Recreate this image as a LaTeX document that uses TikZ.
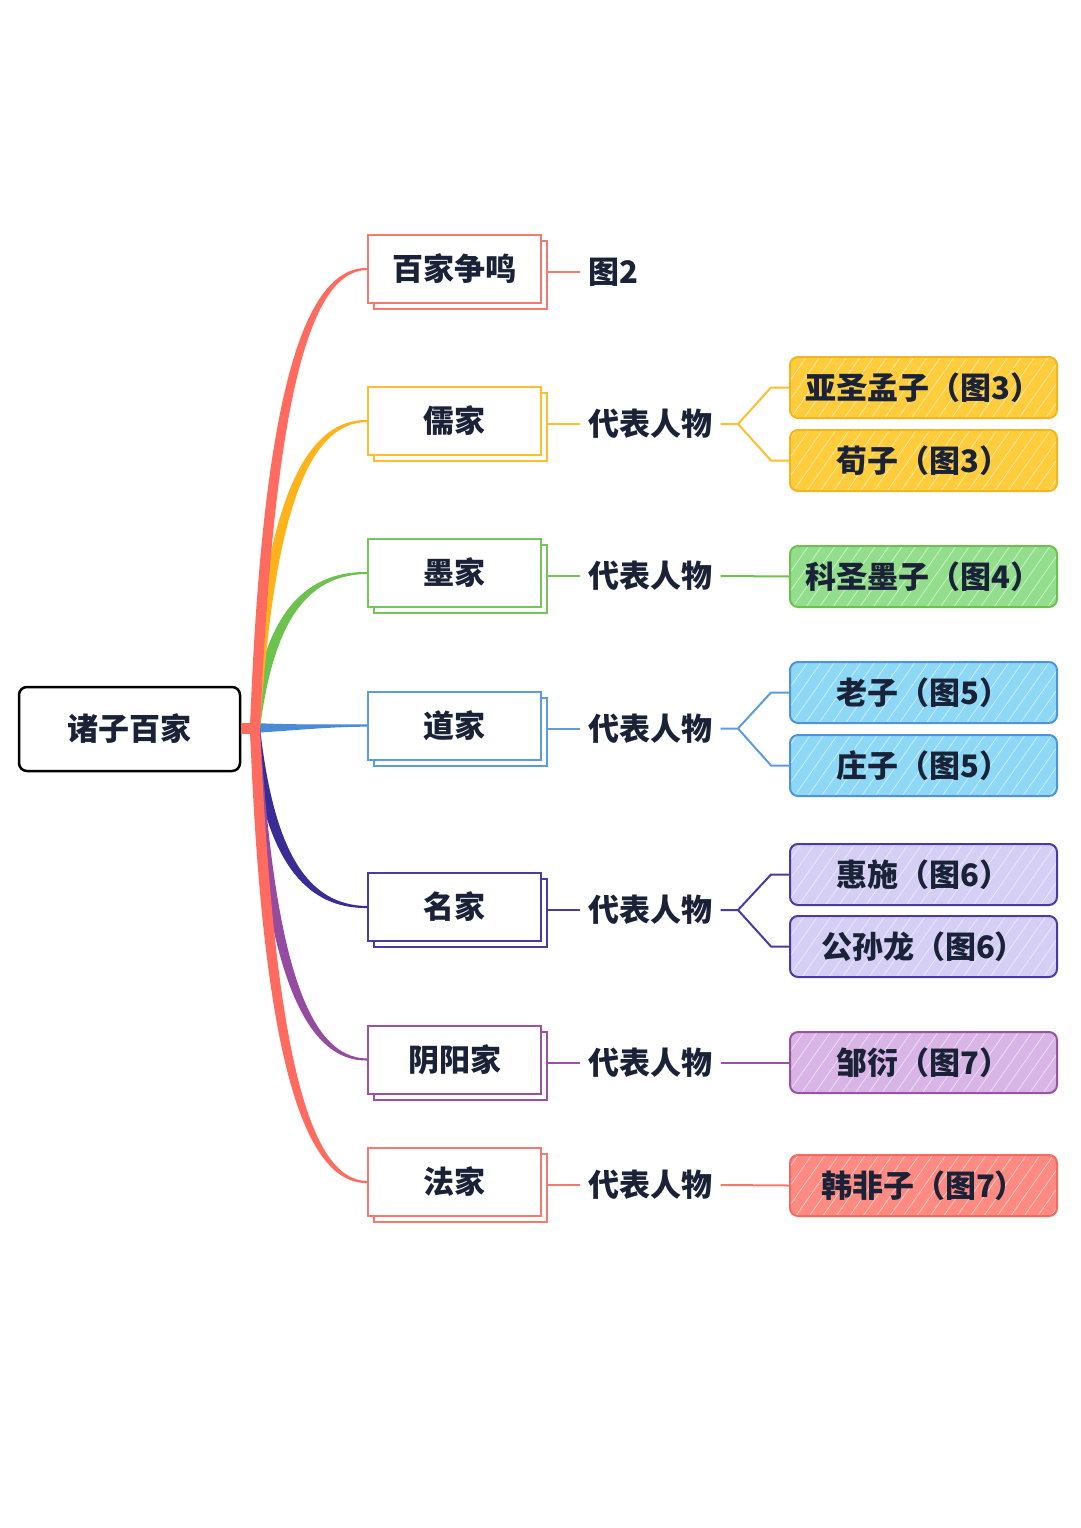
\documentclass[tikz,border=0pt]{standalone}
\usepackage{fontspec}
\setmainfont{Noto Sans CJK SC}
\usetikzlibrary{calc,patterns.meta}
\definecolor{txt}{HTML}{1A2238}
\definecolor{cRed}{HTML}{FF6B5E}
\definecolor{bRed}{HTML}{F47A70}
\definecolor{fRed}{HTML}{FF8A82}
\definecolor{lRed}{HTML}{F26A60}
\definecolor{cYel}{HTML}{FFB31A}
\definecolor{bYel}{HTML}{FFBE2E}
\definecolor{fYel}{HTML}{FFCD3C}
\definecolor{lYel}{HTML}{F4B620}
\definecolor{cGrn}{HTML}{6DC14D}
\definecolor{bGrn}{HTML}{77C45E}
\definecolor{fGrn}{HTML}{92DE8C}
\definecolor{cBlu}{HTML}{4A8BD8}
\definecolor{bBlu}{HTML}{5C9BE0}
\definecolor{fBlu}{HTML}{8DD8F6}
\definecolor{lBlu}{HTML}{4E94DC}
\definecolor{cInd}{HTML}{3A2C96}
\definecolor{bInd}{HTML}{4A3AA6}
\definecolor{fInd}{HTML}{D5CFF6}
\definecolor{cPur}{HTML}{944BA0}
\definecolor{bPur}{HTML}{9A52A3}
\definecolor{fPur}{HTML}{D8B5E6}
\newcommand\brcurve[4]{% color, node, P1 y, sign (1 up, -1 down)
  \fill[#1] (250,728) .. controls (262,#3) and ($(#2.west)+(-66,{-1.8*#4})$) .. ($(#2.west)+(0,{-1*#4})$)
    -- ($(#2.west)+(0,{1*#4})$) .. controls ($(#2.west)+(-59,{1.8*#4})$) and (274,#3) .. (260,728) -- cycle;}
\newcommand\topicbox[4]{% name, color, y, text
  \node[topic=#2] (#1s) at (460.5,{#3+6}) {};
  \node[topic=#2] (#1) at (454.5,#3) {#4};}
\begin{document}
\begin{tikzpicture}[x=1pt,y=-1pt,
  every node/.style={font=\fontsize{31}{36}\selectfont\bfseries, text=txt},
  rootbox/.style={draw=black, line width=2.5pt, rounded corners=8pt, fill=white,
    minimum width=221pt, minimum height=84pt, inner sep=0pt},
  topic/.style={draw=#1, line width=2pt, fill=white, minimum width=173pt,
    minimum height=68pt, inner sep=0pt},
  lbl/.style={inner xsep=8pt, inner ysep=0pt},
  leaf/.style 2 args={preaction={fill=#1},
    pattern={Lines[angle=55,distance=11pt,line width=0.8pt]}, pattern color=#1!45!white,
    draw=#2, line width=2pt, rounded corners=8pt, minimum width=267pt,
    minimum height=61pt, inner sep=0pt},
  conn/.style={draw=#1, line width=2pt},
]
\useasboundingbox[fill=white] (0,0) rectangle (1080,1528);

\topicbox{b1}{bRed}{269}{百家争鸣}
\topicbox{b2}{bYel}{421}{儒家}
\topicbox{b3}{bGrn}{573}{墨家}
\topicbox{b4}{bBlu}{725.5}{道家}
\topicbox{b5}{bInd}{907}{名家}
\topicbox{b6}{bPur}{1059.5}{阴阳家}
\topicbox{b7}{bRed}{1182}{法家}

% tapered main branches
\fill[cBlu] (253,723) .. controls (300,725) and (330,724.3) .. ($(b4.west)+(0,-1.2)$)
  -- ($(b4.west)+(0,1.2)$) .. controls (330,726.7) and (300,730) .. (253,733) -- cycle;
\brcurve{cGrn}{b3}{619}{1}
\brcurve{cYel}{b2}{513}{1}
\brcurve{cInd}{b5}{853}{-1}
\brcurve{cPur}{b6}{960}{-1}
\brcurve{cRed}{b1}{407}{1}
\brcurve{cRed}{b7}{1046}{-1}

% root
\node[rootbox] (root) at (129.5,729) {诸子百家};
\fill[cRed] ($(root.east)+(0,-6)$) rectangle (260,734);

% level-2 labels
\node[lbl] (L1) at (613,272) {图2};
\node[lbl] (L2) at (650.5,424) {代表人物};
\node[lbl] (L3) at (650.5,576) {代表人物};
\node[lbl] (L4) at (650.5,728.5) {代表人物};
\node[lbl] (L5) at (650.5,910) {代表人物};
\node[lbl] (L6) at (650.5,1062.5) {代表人物};
\node[lbl] (L7) at (650.5,1185) {代表人物};

\draw[conn=bRed] ($(b1.east)+(6,3)$) -- (L1.west);
\draw[conn=bYel] ($(b2.east)+(6,3)$) -- (L2.west);
\draw[conn=bGrn] ($(b3.east)+(6,3)$) -- (L3.west);
\draw[conn=bBlu] ($(b4.east)+(6,3)$) -- (L4.west);
\draw[conn=bInd] ($(b5.east)+(6,3)$) -- (L5.west);
\draw[conn=bPur] ($(b6.east)+(6,3)$) -- (L6.west);
\draw[conn=bRed] ($(b7.east)+(6,3)$) -- (L7.west);

% leaves
\node[leaf={fYel}{lYel}] (l2a) at (923.5,387.5) {亚圣孟子（图3）};
\node[leaf={fYel}{lYel}] (l2b) at (923.5,460.5) {荀子（图3）};
\node[leaf={fGrn}{cGrn}] (l3) at (923.5,576.5) {科圣墨子（图4）};
\node[leaf={fBlu}{lBlu}] (l4a) at (923.5,692.5) {老子（图5）};
\node[leaf={fBlu}{lBlu}] (l4b) at (923.5,765.5) {庄子（图5）};
\node[leaf={fInd}{bInd}] (l5a) at (923.5,874.5) {惠施（图6）};
\node[leaf={fInd}{bInd}] (l5b) at (923.5,946.5) {公孙龙（图6）};
\node[leaf={fPur}{bPur}] (l6) at (923.5,1062.5) {邹衍（图7）};
\node[leaf={fRed}{lRed}] (l7) at (923.5,1185.5) {韩非子（图7）};

% connectors to leaves
\coordinate (F2) at (738,424);
\coordinate (F4) at (738,728.5);
\coordinate (F5) at (738,910);
\draw[conn=bYel] (L2.east) -- (F2) -- ($(l2a.west)+(-18,0)$) -- (l2a.west);
\draw[conn=bYel] (F2) -- ($(l2b.west)+(-18,0)$) -- (l2b.west);
\draw[conn=cGrn] (L3.east) -- (l3.west);
\draw[conn=bBlu] (L4.east) -- (F4) -- ($(l4a.west)+(-18,0)$) -- (l4a.west);
\draw[conn=bBlu] (F4) -- ($(l4b.west)+(-18,0)$) -- (l4b.west);
\draw[conn=bInd] (L5.east) -- (F5) -- ($(l5a.west)+(-18,0)$) -- (l5a.west);
\draw[conn=bInd] (F5) -- ($(l5b.west)+(-18,0)$) -- (l5b.west);
\draw[conn=bPur] (L6.east) -- (l6.west);
\draw[conn=bRed] (L7.east) -- (l7.west);
\end{tikzpicture}
\end{document}
